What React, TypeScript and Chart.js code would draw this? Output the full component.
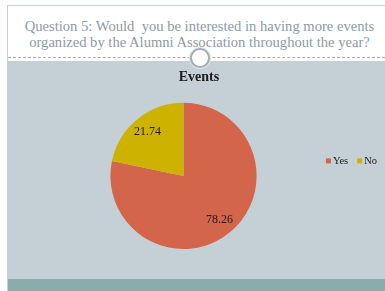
import React, { useEffect, useRef } from 'react';
import { Chart, registerables, layouts } from 'chart.js';

Chart.register(...registerables);

const categories = ['Yes', 'No'];
const values = [78.26, 21.74];
const sliceColors = ['#D3654A', '#CDB300'];
const chartTitle = 'Events';
const questionLines = [
  'Question 5: Would  you be interested in having more events',
  'organized by the Alumni Association throughout the year?',
];

const SERIF = "'Liberation Serif', 'Times New Roman', serif";

const rowLegendPlugin = {
  id: 'rowLegend',
  beforeInit(chart: any) {
    const box: any = {
      position: 'right',
      weight: 1000,
      fullSize: false,
      options: {},
      left: 0, top: 0, right: 0, bottom: 0, width: 0, height: 0,
      isHorizontal() { return false; },
      update(_maxWidth: number, maxHeight: number) {
        this.width = 31;
        this.height = maxHeight;
      },
      draw() {
        const ctx = chart.ctx;
        const items = chart.options.plugins.legend.labels.generateLabels(chart);
        ctx.save();
        ctx.font = `10.5px ${SERIF}`;
        ctx.textBaseline = 'middle';
        ctx.textAlign = 'left';
        const sq = 5, gapText = 2, gapItem = 9;
        const widths = items.map((it: any) => sq + gapText + ctx.measureText(it.text).width);
        const total = widths.reduce((a: number, b: number) => a + b, 0) + gapItem * (items.length - 1);
        let x = this.right - 8 - total;
        const y = (this.top + this.bottom) / 2 - 15;
        items.forEach((it: any, i: number) => {
          ctx.fillStyle = it.fillStyle;
          ctx.fillRect(x, y - sq / 2, sq, sq);
          ctx.fillStyle = '#1a1a1a';
          ctx.fillText(it.text, x + sq + gapText, y + 0.5);
          x += widths[i] + gapItem;
        });
        ctx.restore();
      },
    };
    layouts.addBox(chart, box);
  },
};

const valueLabelPlugin = {
  id: 'valueLabels',
  afterDatasetsDraw(chart: any) {
    const ctx = chart.ctx;
    const meta = chart.getDatasetMeta(0);
    ctx.save();
    ctx.font = `12px ${SERIF}`;
    ctx.fillStyle = '#1a1a1a';
    ctx.textAlign = 'center';
    ctx.textBaseline = 'middle';
    meta.data.forEach((arc: any, i: number) => {
      const p = arc.getProps(['x', 'y', 'startAngle', 'endAngle', 'outerRadius'], true);
      const mid = (p.startAngle + p.endAngle) / 2;
      const r = p.outerRadius * 0.78;
      const v = chart.data.datasets[0].data[i];
      ctx.fillText(v.toFixed(2), p.x + Math.cos(mid) * r, p.y + Math.sin(mid) * r);
    });
    ctx.restore();
  },
};

export default function App() {
  const ref = useRef<HTMLCanvasElement>(null);
  useEffect(() => {
    const canvas = ref.current;
    if (!canvas) return;
    const chart = new Chart(canvas, {
      type: 'pie',
      data: {
        labels: categories,
        datasets: [{ data: values, backgroundColor: sliceColors, borderWidth: 0 }],
      },
      options: {
        responsive: false,
        animation: false,
        devicePixelRatio: 1,
        layout: { padding: { left: 5, right: 0, top: 0, bottom: 30 } },
        plugins: {
          legend: { display: false },
          tooltip: { enabled: false },
          title: {
            display: true,
            text: chartTitle,
            color: '#1b1b1b',
            font: { family: SERIF, size: 14, weight: 'bold' },
            padding: { top: 8, bottom: 17 },
          },
        },
      } as any,
      plugins: [rowLegendPlugin as any, valueLabelPlugin as any],
    });
    return () => chart.destroy();
  }, []);

  return (
    <div style={{ position: 'fixed', left: 0, top: 0, width: 385, height: 291, background: '#ffffff', overflow: 'hidden' }}>
      <div style={{ position: 'absolute', left: 7, top: 5, right: 0, height: 1, background: '#c8d0d4' }} />
      <div style={{ position: 'absolute', left: 7, top: 5, width: 1, bottom: 0, background: '#c8d0d4' }} />
      <div style={{ position: 'absolute', left: 14, right: 0, top: 18, textAlign: 'center', fontFamily: SERIF, fontSize: 14.6, lineHeight: '16px', color: '#8a9ca6', whiteSpace: 'pre' }}>
        {questionLines.map((l, i) => <div key={i}>{l}</div>)}
      </div>
      <div style={{ position: 'absolute', left: 8, right: 0, top: 57, height: 0, borderTop: '1px dashed #a7b2b7' }} />
      <div style={{ position: 'absolute', left: 8, right: 0, top: 61, height: 218, background: '#c5d0d6' }} />
      <div style={{ position: 'absolute', left: 8, right: 0, top: 279, bottom: 0, background: '#8aacac' }} />
      <canvas ref={ref} width={377} height={218} style={{ position: 'absolute', left: 8, top: 61, width: 377, height: 218 }} />
      <div style={{ position: 'absolute', left: 190, top: 48, width: 20, height: 20, boxSizing: 'border-box', borderRadius: '50%', background: '#ffffff', border: '2px solid #a2aeb4', boxShadow: '0 0 0 1px #dde3e6' }} />
    </div>
  );
}
